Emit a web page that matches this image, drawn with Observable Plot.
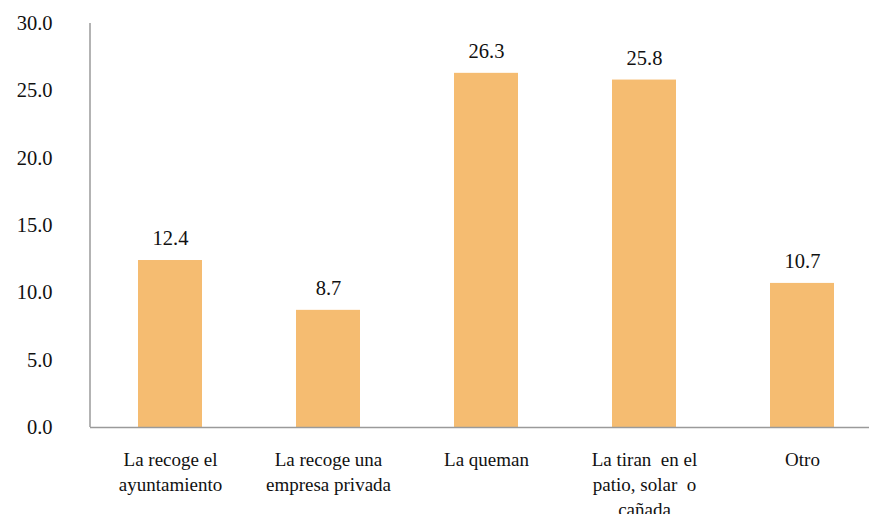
<!DOCTYPE html>
<html>
<head>
<meta charset="utf-8">
<script src="https://cdn.jsdelivr.net/npm/d3@7"></script>
<script src="https://cdn.jsdelivr.net/npm/@observablehq/plot@0.6"></script>
<style>
  html, body { margin: 0; padding: 0; background: #fff; }
  #chart { width: 869px; height: 514px; overflow: hidden; }
  #chart svg, #chart svg text { font-family: "Liberation Serif", "Times New Roman", serif !important; }
</style>
</head>
<body>
<div id="chart"></div>
<script>
const categories = ["recoge_ayto", "recoge_privada", "queman", "tiran", "otro"];
const labels = ["La recoge el\nayuntamiento", "La recoge una\nempresa privada", "La queman", "La tiran  en el\npatio, solar  o\ncañada", "Otro"];
const values = [12.4, 8.7, 26.3, 25.8, 10.7];
const yTicks = [0, 5, 10, 15, 20, 25, 30];

const data = categories.map((c, i) => ({cat: c, label: labels[i], value: values[i]}));
const labelOf = new Map(categories.map((c, i) => [c, labels[i]]));

const font = "Liberation Serif";

const leftAxisLine = (index, scales, values, dimensions) => {
  const ns = "http://www.w3.org/2000/svg";
  const line = document.createElementNS(ns, "line");
  const x = dimensions.marginLeft;
  line.setAttribute("x1", x);
  line.setAttribute("x2", x);
  line.setAttribute("y1", scales.y(30));
  line.setAttribute("y2", scales.y(0));
  line.setAttribute("stroke", "#9a9a9a");
  line.setAttribute("stroke-width", 1.5);
  return line;
};

const chart = Plot.plot({
  width: 869,
  height: 514,
  marginLeft: 90,
  marginRight: 0,
  marginTop: 23,
  marginBottom: 87,
  style: {fontFamily: font, fontSize: "19px", color: "#111", background: "#fff"},
  x: {domain: categories, range: [90, 882], paddingInner: 0.595, paddingOuter: 0.2975, axis: null, label: null},
  y: {domain: [0, 30], axis: null, label: null},
  marks: [
    Plot.barY(data, {x: "cat", y: "value", fill: "#F5BC71"}),
    leftAxisLine,
    Plot.ruleY([0], {stroke: "#9a9a9a", strokeWidth: 1.5}),
    Plot.axisY({ticks: yTicks, tickSize: 0, tickPadding: 38, tickFormat: d => d.toFixed(1), fontSize: 20.5, fontFamily: font, fill: "#111", anchor: "left", label: null}),
    Plot.axisX({tickSize: 0, tickPadding: 20, tickFormat: d => labelOf.get(d), fontSize: 19, fontFamily: font, lineHeight: 1.34, fill: "#111", textAnchor: "middle", label: null}),
    Plot.text(data, {x: "cat", y: "value", text: d => d.value.toFixed(1), dy: -22, fontSize: 20.5, fontFamily: font, fill: "#111"})
  ]
});
document.getElementById("chart").appendChild(chart);
</script>
</body>
</html>
